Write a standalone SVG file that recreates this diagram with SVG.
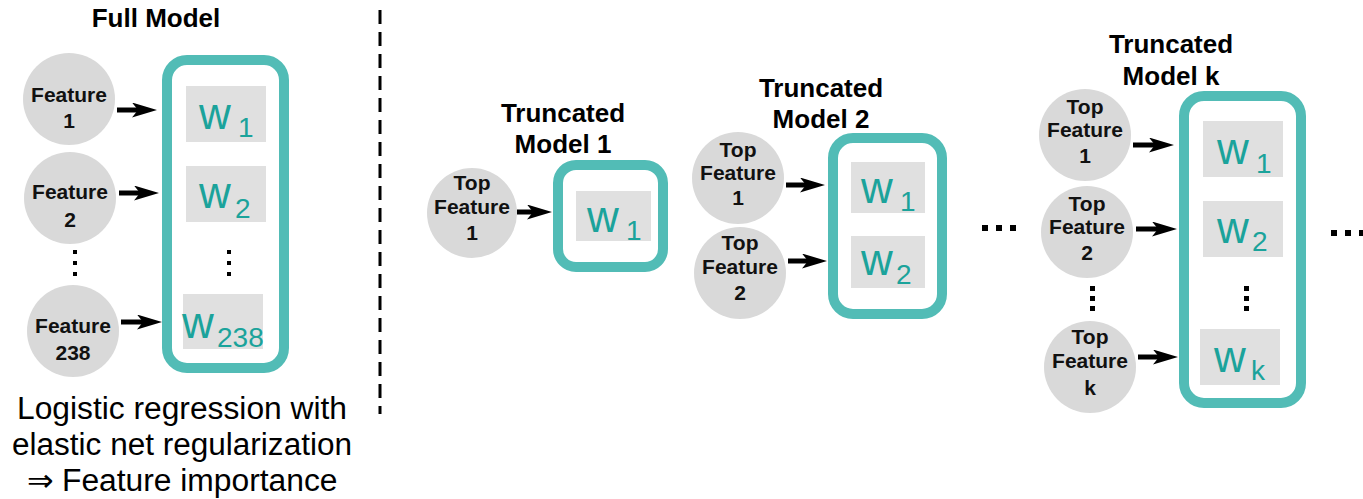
<svg xmlns="http://www.w3.org/2000/svg" width="1363" height="499" viewBox="0 0 1363 499">
<defs>
<style>
.title{font-family:"Liberation Sans",Arial,sans-serif;font-weight:bold;font-size:26px;fill:#000;text-anchor:middle}
.ft{font-family:"Liberation Sans",Arial,sans-serif;font-weight:bold;font-size:21px;fill:#111;text-anchor:middle}
.cap{font-family:"Liberation Sans",Arial,sans-serif;font-size:31px;fill:#000;text-anchor:middle}
.w{font-family:"Liberation Sans",Arial,sans-serif;font-size:44px;fill:#1ba39b}
.sub{font-family:"Liberation Sans",Arial,sans-serif;font-size:28px;fill:#1ba39b}
.node{fill:#d9d9d9}
.model{fill:#fff;stroke:#52bcb6;stroke-width:10}
.wbox{fill:#e0e0e0}
.arrow{stroke:#000;stroke-width:5;fill:none;marker-end:url(#ah)}
.dot{fill:#000}
</style>
<marker id="ah" markerUnits="userSpaceOnUse" viewBox="0 0 25 15" markerWidth="25" markerHeight="15" refX="15" refY="7.5" orient="auto">
<path d="M0,0 L25,7.5 L0,15 L6,7.5 Z" fill="#000"/>
</marker>
</defs>
<rect width="1363" height="499" fill="#fff"/>

<!-- divider -->
<line x1="380" y1="10" x2="380" y2="414" stroke="#000" stroke-width="3" stroke-dasharray="14 8"/>

<!-- Full model -->
<g id="full-model">
<text class="title" x="156" y="27">Full Model</text>
<rect class="model" x="167" y="60" width="117" height="308" rx="20"/>
<rect class="wbox" x="186" y="86" width="80" height="56"/>
<text x="199" y="129"><tspan class="w">w</tspan><tspan class="sub" x="238" y="137">1</tspan></text>
<rect class="wbox" x="186" y="166" width="80" height="56"/>
<text x="199" y="208"><tspan class="w">w</tspan><tspan class="sub" x="235" y="218">2</tspan></text>
<rect class="dot" x="227" y="250" width="4" height="4"/>
<rect class="dot" x="227" y="261" width="4" height="4"/>
<rect class="dot" x="227" y="272" width="4" height="4"/>
<rect class="wbox" x="183" y="294" width="80" height="55"/>
<text x="182" y="338"><tspan class="w">w</tspan><tspan class="sub" x="217" y="347">238</tspan></text>
</g>
<g id="feature-1"><circle class="node" cx="69" cy="99" r="46"/><text class="ft" x="69" y="102">Feature</text><text class="ft" x="69" y="128">1</text></g>
<g id="feature-2"><circle class="node" cx="70" cy="198" r="46"/><text class="ft" x="70" y="199">Feature</text><text class="ft" x="70" y="227">2</text></g>
<g id="feature-dots"><rect class="dot" x="73" y="250" width="4" height="4"/><rect class="dot" x="73" y="261" width="4" height="4"/><rect class="dot" x="73" y="272" width="4" height="4"/></g>
<g id="feature-238"><circle class="node" cx="73" cy="331" r="46"/><text class="ft" x="73" y="333">Feature</text><text class="ft" x="73" y="360">238</text></g>
<g id="caption">
<text class="cap" x="182" y="419" textLength="330" lengthAdjust="spacingAndGlyphs">Logistic regression with</text>
<text class="cap" x="182" y="455" textLength="340" lengthAdjust="spacingAndGlyphs">elastic net regularization</text>
<text class="cap" x="182" y="491" textLength="311" lengthAdjust="spacingAndGlyphs">⇒ Feature importance</text>
</g>

<!-- Truncated model 1 -->
<g id="truncated-model-1">
<text class="title" x="563" y="122">Truncated</text>
<text class="title" x="563" y="153">Model 1</text>
<rect class="model" x="558" y="165" width="105" height="102" rx="18"/>
<rect class="wbox" x="576" y="191" width="75" height="50"/>
<text x="587" y="232"><tspan class="w">w</tspan><tspan class="sub" x="626" y="240">1</tspan></text>
</g>
<g id="tm1-feature-1"><circle class="node" cx="472" cy="213" r="45"/><text class="ft" x="472" y="190">Top</text><text class="ft" x="472" y="214">Feature</text><text class="ft" x="472" y="240">1</text></g>

<!-- Truncated model 2 -->
<g id="truncated-model-2">
<text class="title" x="821" y="97">Truncated</text>
<text class="title" x="821" y="128">Model 2</text>
<rect class="model" x="833" y="138" width="109" height="176" rx="20"/>
<rect class="wbox" x="851" y="162" width="74" height="51"/>
<text x="861" y="203"><tspan class="w">w</tspan><tspan class="sub" x="900" y="211">1</tspan></text>
<rect class="wbox" x="851" y="236" width="74" height="52"/>
<text x="861" y="275"><tspan class="w">w</tspan><tspan class="sub" x="896" y="284">2</tspan></text>
</g>
<g id="tm2-feature-1"><circle class="node" cx="738" cy="178" r="46"/><text class="ft" x="738" y="157">Top</text><text class="ft" x="738" y="180">Feature</text><text class="ft" x="738" y="205">1</text></g>
<g id="tm2-feature-2"><circle class="node" cx="740" cy="273" r="46"/><text class="ft" x="740" y="250">Top</text><text class="ft" x="740" y="274">Feature</text><text class="ft" x="740" y="300">2</text></g>

<!-- ellipses -->
<g id="ellipsis-mid"><rect class="dot" x="982" y="225" width="6" height="6"/><rect class="dot" x="996" y="225" width="6" height="6"/><rect class="dot" x="1010" y="225" width="6" height="6"/></g>
<g id="ellipsis-right"><rect class="dot" x="1331" y="230" width="6" height="6"/><rect class="dot" x="1345" y="230" width="6" height="6"/><rect class="dot" x="1359" y="230" width="6" height="6"/></g>

<!-- Truncated model k -->
<g id="truncated-model-k">
<text class="title" x="1171" y="53">Truncated</text>
<text class="title" x="1171" y="85">Model k</text>
<rect class="model" x="1184" y="96" width="117" height="307" rx="20"/>
<rect class="wbox" x="1203" y="121" width="80" height="56"/>
<text x="1217" y="164"><tspan class="w">w</tspan><tspan class="sub" x="1256" y="173">1</tspan></text>
<rect class="wbox" x="1203" y="201" width="80" height="56"/>
<text x="1217" y="243"><tspan class="w">w</tspan><tspan class="sub" x="1252" y="251">2</tspan></text>
<rect class="dot" x="1244" y="286" width="5" height="5"/>
<rect class="dot" x="1244" y="296" width="5" height="5"/>
<rect class="dot" x="1244" y="306" width="5" height="5"/>
<rect class="wbox" x="1200" y="329" width="80" height="56"/>
<text x="1214" y="372"><tspan class="w">w</tspan><tspan class="sub" x="1251" y="380">k</tspan></text>
</g>
<g id="tmk-feature-1"><circle class="node" cx="1085" cy="135" r="46"/><text class="ft" x="1085" y="114">Top</text><text class="ft" x="1085" y="137">Feature</text><text class="ft" x="1085" y="163">1</text></g>
<g id="tmk-feature-2"><circle class="node" cx="1087" cy="232" r="46"/><text class="ft" x="1087" y="211">Top</text><text class="ft" x="1087" y="234">Feature</text><text class="ft" x="1087" y="260">2</text></g>
<g id="tmk-feature-dots"><rect class="dot" x="1090" y="286" width="5" height="5"/><rect class="dot" x="1090" y="296" width="5" height="5"/><rect class="dot" x="1090" y="306" width="5" height="5"/></g>
<g id="tmk-feature-k"><circle class="node" cx="1090" cy="367" r="46"/><text class="ft" x="1090" y="344">Top</text><text class="ft" x="1090" y="368">Feature</text><text class="ft" x="1090" y="395">k</text></g>

<!-- connectors -->
<g id="connectors">
<line class="arrow" x1="117" y1="110" x2="147" y2="110"/>
<line class="arrow" x1="119" y1="193" x2="149" y2="193"/>
<line class="arrow" x1="121" y1="322" x2="152" y2="322"/>
<line class="arrow" x1="517" y1="212" x2="542" y2="212"/>
<line class="arrow" x1="786" y1="185" x2="815" y2="185"/>
<line class="arrow" x1="788" y1="261" x2="817" y2="261"/>
<line class="arrow" x1="1133" y1="145" x2="1164" y2="145"/>
<line class="arrow" x1="1136" y1="229" x2="1167" y2="229"/>
<line class="arrow" x1="1138" y1="357" x2="1168" y2="357"/>
</g>
</svg>
